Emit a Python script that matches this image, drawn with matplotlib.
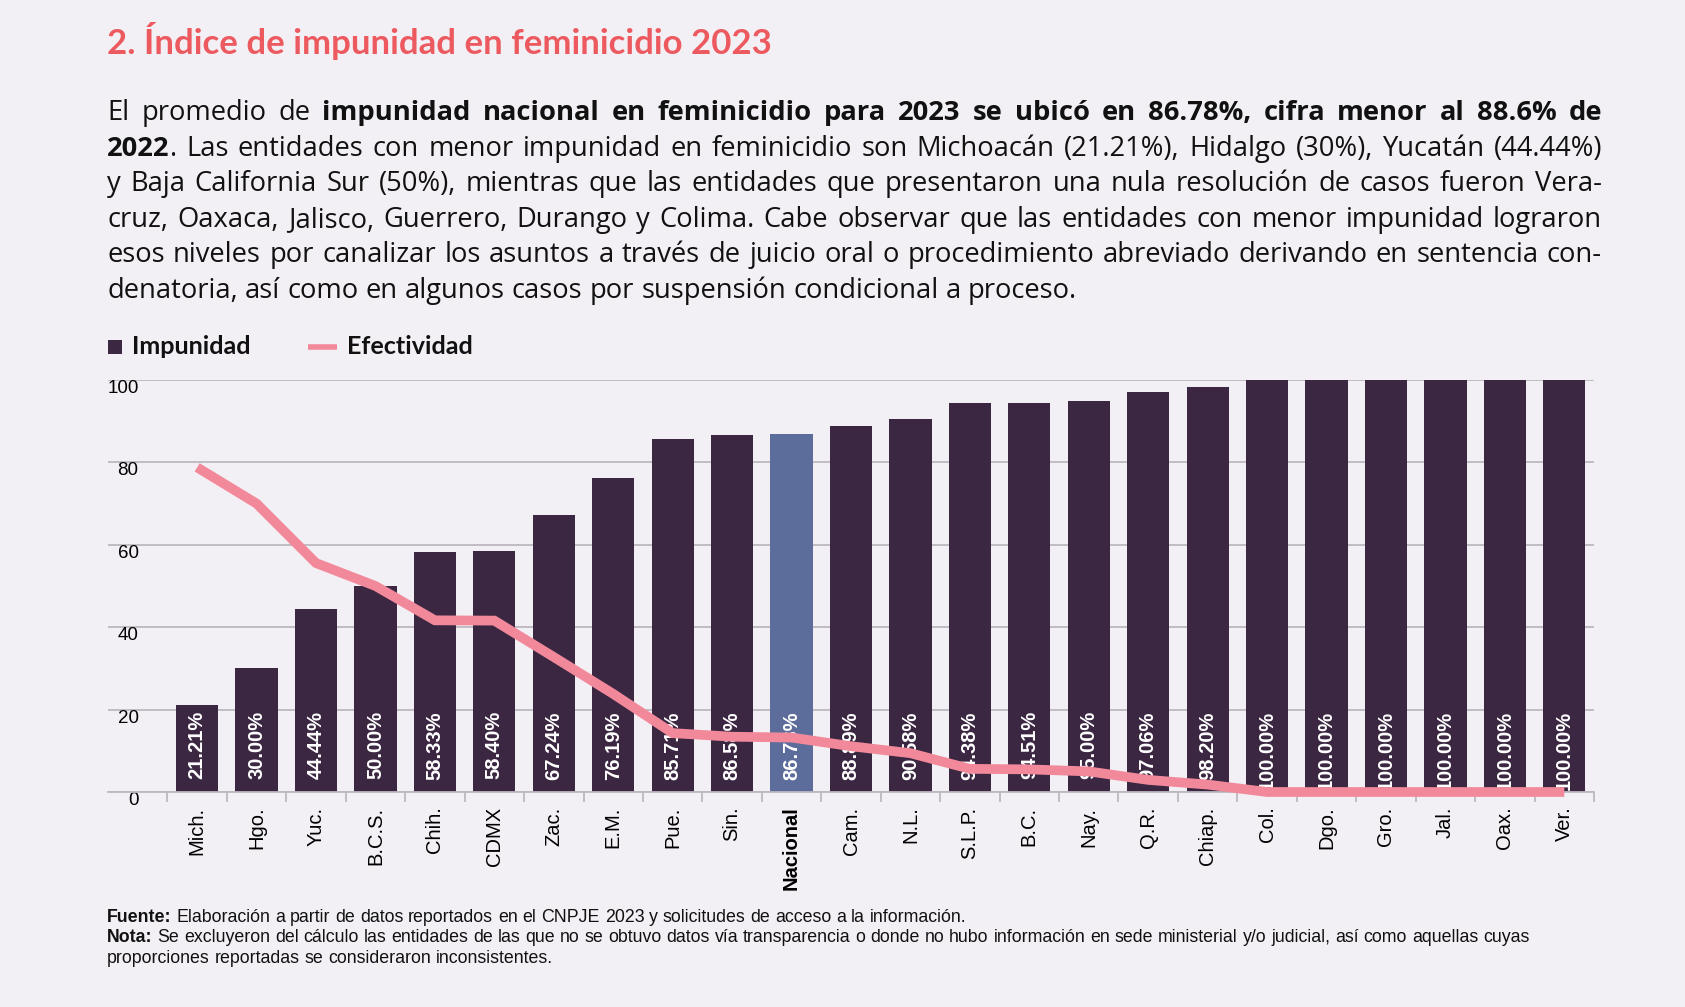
import matplotlib
matplotlib.use("Agg")
import matplotlib.pyplot as plt
import numpy as np
from matplotlib.patches import Rectangle
from matplotlib.lines import Line2D
from matplotlib import font_manager as fm

# ---------------- data ----------------
categories = ["Mich.", "Hgo.", "Yuc.", "B.C.S.", "Chih.", "CDMX", "Zac.", "E.M.",
              "Pue.", "Sin.", "Nacional", "Cam.", "N.L.", "S.L.P.", "B.C.", "Nay.",
              "Q.R.", "Chiap.", "Col.", "Dgo.", "Gro.", "Jal.", "Oax.", "Ver."]
impunidad = [21.21, 30.00, 44.44, 50.00, 58.33, 58.40, 67.24, 76.19, 85.71, 86.58,
             86.78, 88.89, 90.58, 94.38, 94.51, 95.00, 97.06, 98.20, 100.00, 100.00,
             100.00, 100.00, 100.00, 100.00]
efectividad = [78.79, 70.00, 55.56, 50.00, 41.67, 41.60, 32.76, 23.81, 14.29, 13.42,
               13.22, 11.11, 9.42, 5.62, 5.49, 5.00, 2.94, 1.80, 0.00, 0.00,
               0.00, 0.00, 0.00, 0.00]
yticks = [0, 20, 40, 60, 80, 100]
highlight = "Nacional"

title = "2. Índice de impunidad en feminicidio 2023"
legend_labels = ["Impunidad", "Efectividad"]
para_lines = [
    [("El promedio de ", False),
     ("impunidad nacional en feminicidio para 2023 se ubicó en 86.78%, cifra menor al 88.6% de", True)],
    [("2022", True),
     (". Las entidades con menor impunidad en feminicidio son Michoacán (21.21%), Hidalgo (30%), Yucatán (44.44%)", False)],
    [("y Baja California Sur (50%), mientras que las entidades que presentaron una nula resolución de casos fueron Vera-", False)],
    [("cruz, Oaxaca, Jalisco, Guerrero, Durango y Colima. Cabe observar que las entidades con menor impunidad lograron", False)],
    [("esos niveles por canalizar los asuntos a través de juicio oral o procedimiento abreviado derivando en sentencia con-", False)],
    [("denatoria, así como en algunos casos por suspensión condicional a proceso.", False)],
]
foot_lines = [
    [("Fuente:", True), (" Elaboración a partir de datos reportados en el CNPJE 2023 y solicitudes de acceso a la información.", False)],
    [("Nota:", True), (" Se excluyeron del cálculo las entidades de las que no se obtuvo datos vía transparencia o donde no hubo información en sede ministerial y/o judicial, así como aquellas cuyas", False)],
    [("proporciones reportadas se consideraron inconsistentes.", False)],
]

# ---------------- style ----------------
BG = "#F3F0F5"
DARK = "#3B2742"
NAC = "#5D6D9B"
PINK = "#F2899B"
TITLE_C = "#EC5A60"
GRID = "#BDB8C0"


def has_bold(family):
    try:
        path = fm.findfont(fm.FontProperties(family=family, weight="bold"),
                           fallback_to_default=False)
    except Exception:
        return False
    name = fm.get_font(path).family_name if hasattr(fm, "get_font") else ""
    style = fm.get_font(path).style_name.lower()
    return ("bold" in style or "black" in style or "heavy" in style) and family.lower() in name.lower()


def pick(families):
    for f in families:
        if has_bold(f):
            return [f, "DejaVu Sans"]
    return ["DejaVu Sans"]


HEAD_FONT = pick(["Lato", "Inter", "Roboto"])
PARA_FONT = pick(["Open Sans", "Noto Sans", "DejaVu Sans"])
CHART_FONT = pick(["Liberation Sans", "DejaVu Sans"])

W, H = 1685, 1007
fig = plt.figure(figsize=(W / 100, H / 100), dpi=100, facecolor=BG)
renderer = fig.canvas.get_renderer()


def fx(px):
    return px / W


def fy(py):
    return 1 - py / H


def text_w(s, **kw):
    t = fig.text(0, 0, s, **kw)
    w = t.get_window_extent(renderer).width
    t.remove()
    return w


def fit_size(s, target, size0, **kw):
    w = text_w(s, fontsize=size0, **kw)
    return size0 * target / w


def split_words(segs):
    words, cur = [], []
    for txt, bold in segs:
        parts = txt.split(" ")
        for j, p in enumerate(parts):
            if j > 0:
                if cur:
                    words.append(cur)
                cur = []
            if p:
                cur.append((p, bold))
    if cur:
        words.append(cur)
    return words


def space_w(size, family):
    return text_w("a a", fontsize=size, family=family) - text_w("aa", fontsize=size, family=family)


def line_widths(lines, size, family):
    sp = space_w(size, family)
    out = []
    for segs in lines:
        words = split_words(segs)
        tot = 0
        for w in words:
            tot += sum(text_w(p, fontsize=size, family=family,
                              fontweight="bold" if b else "normal") for p, b in w)
        tot += sp * (len(words) - 1)
        out.append(tot)
    return out


def layout(lines, x0, x1, y0, dy, size, family, color, justify_all_but_last):
    wl = []
    for segs in lines:
        words = split_words(segs)
        ww = []
        for w in words:
            ww.append([(p, b, text_w(p, fontsize=size, family=family,
                                     fontweight="bold" if b else "normal")) for p, b in w])
        wl.append(ww)
    sp = space_w(size, family)
    for i, ww in enumerate(wl):
        total = sum(sum(p[2] for p in w) for w in ww)
        n = len(ww)
        if justify_all_but_last and i < len(wl) - 1 and n > 1:
            gap = (x1 - x0 - total) / (n - 1)
        else:
            gap = sp
        x = x0
        y = y0 + dy * i
        for w in ww:
            for p, b, pw in w:
                fig.text(fx(x), fy(y), p, fontsize=size, family=family, color=color,
                         fontweight="bold" if b else "normal", va="center", ha="left")
                x += pw
            x += gap


# ---------------- header ----------------
ts = fit_size(title, 665, 22, family=HEAD_FONT, fontweight="bold")
fig.text(fx(107), fy(41), title, fontsize=ts, family=HEAD_FONT, fontweight="bold",
         color=TITLE_C, va="center", ha="left")

# paragraph: size from the (unjustified) last line, limited so no line overflows
psize = 17.0
lw_ = line_widths(para_lines, psize, PARA_FONT)
psize = psize * 981 / lw_[-1]
lw_ = line_widths(para_lines[:-1], psize, PARA_FONT)
if max(lw_) > 0.99 * (1602 - 107):
    psize = psize * 0.99 * (1602 - 107) / max(lw_)
layout(para_lines, 107, 1602, 113, 35.6, psize, PARA_FONT, "#111111", True)

# legend
ls = fit_size(legend_labels[0], 120, 14, family=HEAD_FONT, fontweight="bold")
fig.patches.append(Rectangle((fx(108), fy(354)), 14 / W, 14 / H, transform=fig.transFigure,
                             facecolor=DARK, edgecolor="none"))
fig.lines.append(Line2D([fx(308), fx(337)], [fy(347), fy(347)], transform=fig.transFigure,
                        color=PINK, lw=4, solid_capstyle="butt"))
fig.text(fx(132), fy(346), legend_labels[0], fontsize=ls, family=HEAD_FONT,
         fontweight="bold", color="#111111", va="center", ha="left")
fig.text(fx(347), fy(346), legend_labels[1], fontsize=ls, family=HEAD_FONT,
         fontweight="bold", color="#111111", va="center", ha="left")

# ---------------- chart ----------------
ax = fig.add_axes([fx(108), fy(792), (1594 - 108) / W, (792 - 380) / H])
ax.set_facecolor(BG)
x = np.arange(len(categories))
colors = [NAC if c == highlight else DARK for c in categories]
ax.bar(x, impunidad, width=0.71, color=colors, zorder=2)
ax.plot(x, efectividad, color=PINK, lw=7, zorder=4, solid_capstyle="butt",
        solid_joinstyle="miter", clip_on=False)
for i, v in enumerate(impunidad):
    ax.text(i, 19.6, f"{v:.2f}%", rotation=90, ha="center", va="top", color="white",
            fontweight="bold", fontsize=14.5, family=CHART_FONT, zorder=3)

ax.set_xlim(-1.5, len(categories) - 0.5)
ax.set_ylim(0, 100)
ax.set_yticks(yticks)
ax.set_yticklabels([str(t) for t in yticks], family=CHART_FONT, fontsize=13.5)
ax.yaxis.grid(True, color=GRID, lw=1.3)
ax.set_axisbelow(True)
for s in ["top", "right", "left"]:
    ax.spines[s].set_visible(False)
ax.spines["bottom"].set_color(GRID)
ax.spines["bottom"].set_linewidth(1.3)
ax.tick_params(axis="y", length=0, pad=-22)
for lab in ax.get_yticklabels():
    lab.set_verticalalignment("top")
    lab.set_horizontalalignment("right")

ax.set_xticks(x)
ax.set_xticklabels(categories, rotation=90, family=CHART_FONT, fontsize=14.5)
for lab in ax.get_xticklabels():
    if lab.get_text() == highlight:
        lab.set_fontweight("bold")
ax.set_xticks(np.arange(-0.5, len(categories), 1), minor=True)
ax.tick_params(axis="x", which="major", length=0, pad=10.5)
ax.tick_params(axis="x", which="minor", length=7, width=1.3, color=GRID, direction="out")

# ---------------- footer ----------------
fsz = 10.5
nwf = line_widths([foot_lines[1]], fsz, CHART_FONT)[0]
fsz = fsz * (1542 - 107) / nwf
layout(foot_lines, 107, 1542, 917, 20.8, fsz, CHART_FONT, "#111111", False)

fig.savefig("out.png", dpi=100, facecolor=BG)
